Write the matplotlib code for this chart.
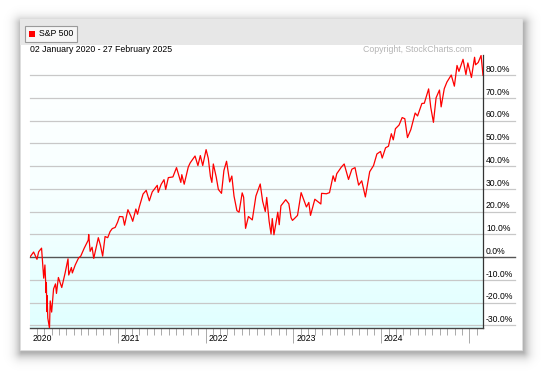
import matplotlib
matplotlib.use("Agg")
import matplotlib.pyplot as plt
import matplotlib.dates as mdates
import matplotlib.transforms as mtransforms
from matplotlib.patches import Rectangle
import numpy as np
import pandas as pd

plt.rcParams["font.family"] = ["Liberation Sans", "DejaVu Sans"]

# S&P 500, % change since 02 Jan 2020
dates = [
    "2020-01-02", "2020-01-17", "2020-01-31", "2020-02-07", "2020-02-19", "2020-02-28",
    "2020-03-04", "2020-03-09", "2020-03-10", "2020-03-12", "2020-03-13", "2020-03-16",
    "2020-03-23", "2020-03-26", "2020-04-01", "2020-04-09", "2020-04-17", "2020-04-21",
    "2020-04-29", "2020-05-13", "2020-05-27", "2020-06-08", "2020-06-11", "2020-06-22",
    "2020-06-26", "2020-07-08", "2020-07-22", "2020-07-31", "2020-08-14", "2020-08-31",
    "2020-09-02", "2020-09-08", "2020-09-16", "2020-09-23", "2020-10-12", "2020-10-21",
    "2020-10-30", "2020-11-09", "2020-11-20", "2020-11-30", "2020-12-09", "2020-12-21",
    "2020-12-31", "2021-01-08", "2021-01-22", "2021-01-29", "2021-02-12", "2021-02-25",
    "2021-03-04", "2021-03-17", "2021-03-24", "2021-03-31", "2021-04-16", "2021-04-29",
    "2021-05-12", "2021-05-24", "2021-06-14", "2021-06-18", "2021-06-30", "2021-07-12",
    "2021-07-19", "2021-07-30", "2021-08-18", "2021-08-31", "2021-09-02", "2021-09-20",
    "2021-09-24", "2021-10-04", "2021-10-21", "2021-10-29", "2021-11-18", "2021-11-30",
    "2021-12-10", "2021-12-20", "2022-01-03", "2022-01-12", "2022-01-21", "2022-01-27",
    "2022-02-02", "2022-02-14", "2022-02-23", "2022-03-08", "2022-03-18", "2022-03-29",
    "2022-04-11", "2022-04-20", "2022-04-29", "2022-05-11", "2022-05-20", "2022-06-02",
    "2022-06-08", "2022-06-16", "2022-06-28", "2022-07-14", "2022-07-29", "2022-08-16",
    "2022-08-26", "2022-09-06", "2022-09-12", "2022-09-22", "2022-09-30", "2022-10-05",
    "2022-10-12", "2022-10-28", "2022-11-03", "2022-11-10", "2022-11-30", "2022-12-13",
    "2022-12-22", "2022-12-28", "2023-01-05", "2023-01-18", "2023-02-02", "2023-02-24",
    "2023-03-06", "2023-03-13", "2023-03-31", "2023-04-25", "2023-04-28", "2023-05-18",
    "2023-05-31", "2023-06-15", "2023-06-23", "2023-06-30", "2023-07-19", "2023-07-31",
    "2023-08-18", "2023-09-01", "2023-09-14", "2023-09-29", "2023-10-12", "2023-10-27",
    "2023-11-14", "2023-11-30", "2023-12-14", "2023-12-29", "2024-01-05", "2024-01-19",
    "2024-01-31", "2024-02-12", "2024-02-20", "2024-02-29", "2024-03-15", "2024-03-28",
    "2024-04-08", "2024-04-19", "2024-05-03", "2024-05-21", "2024-05-31", "2024-06-18",
    "2024-06-28", "2024-07-16", "2024-07-25", "2024-08-05", "2024-08-16", "2024-08-30",
    "2024-09-06", "2024-09-19", "2024-09-30", "2024-10-18", "2024-10-31", "2024-11-11",
    "2024-11-19", "2024-12-06", "2024-12-18", "2024-12-26", "2025-01-10", "2025-01-23",
    "2025-01-27", "2025-02-07", "2025-02-19", "2025-02-27",
]
pct = [
    0.0, 2.2, -1.0, 2.3, 3.9, -9.3,
    -3.5, -15.7, -11.2, -24.0, -17.0, -26.8,
    -31.3, -19.3, -24.2, -14.0, -11.8, -16.0,
    -9.0, -13.4, -7.0, -0.8, -7.9, -4.6,
    -7.0, -3.5, -0.4, 0.4, 3.8, 7.4,
    9.9, 2.5, 4.3, -0.6, 8.5, 5.1,
    0.4, 9.0, 8.5, 11.2, 12.5, 13.0,
    15.3, 17.8, 17.7, 14.0, 20.8, 17.8,
    15.7, 21.1, 18.8, 21.9, 27.7, 29.3,
    24.7, 28.6, 31.5, 28.4, 31.9, 34.0,
    29.7, 34.9, 35.2, 38.8, 39.3, 32.8,
    36.2, 32.0, 39.6, 41.4, 44.4, 40.2,
    44.6, 40.2, 47.2, 43.4, 35.4, 32.8,
    40.9, 35.2, 29.7, 28.0, 38.0, 42.1,
    33.0, 35.6, 26.8, 20.4, 19.7, 28.2,
    26.3, 12.6, 17.8, 16.3, 26.8, 32.1,
    24.5, 20.0, 26.2, 15.7, 10.1, 16.9,
    9.8, 19.7, 14.2, 22.5, 25.2, 23.4,
    17.3, 16.1, 16.9, 18.3, 28.3, 22.0,
    24.0, 18.3, 25.4, 23.3, 28.0, 27.8,
    28.3, 35.7, 33.2, 36.6, 39.5, 40.9,
    34.1, 38.6, 39.3, 31.6, 33.5, 26.4,
    37.5, 40.2, 45.3, 46.4, 43.5, 48.0,
    48.7, 54.2, 51.5, 56.4, 58.0, 61.3,
    60.8, 52.5, 56.0, 63.3, 62.0, 67.5,
    67.6, 73.9, 65.7, 59.2, 70.0, 73.4,
    66.0, 74.0, 76.9, 80.0, 75.1, 84.2,
    81.6, 86.9, 80.2, 85.3, 78.9, 87.8,
    84.5, 85.5, 88.6, 79.9,
]
ytick_values = [80, 70, 60, 50, 40, 30, 20, 10, 0, -10, -20, -30]
year_labels = ["2020", "2021", "2022", "2023", "2024"]

W, H = 541, 371
fig = plt.figure(figsize=(W / 100, H / 100), dpi=100)
fig.patch.set_facecolor("white")


def box(x0, y0, x1, y1, **kw):
    # pixel coords (top-left origin) -> figure fraction rectangle
    r = Rectangle((x0 / W, 1 - y1 / H), (x1 - x0) / W, (y1 - y0) / H,
                  transform=fig.transFigure, **kw)
    fig.patches.append(r)
    return r


# blurred drop shadow around the card (decorative raster)
yy, xx = np.mgrid[0:H, 0:W]
dx = np.maximum(np.maximum(21 - xx, xx - 523), 0)
dy = np.maximum(np.maximum(23 - yy, yy - 352), 0)
dist = np.hypot(dx, dy)
shadow = np.zeros((H, W, 4))
shadow[..., 3] = 0.3 * np.exp(-(dist / 6.0) ** 1.3)
fig.figimage(shadow, xo=0, yo=0, origin="upper", zorder=0)

box(20, 19, 522, 350, facecolor="white", edgecolor="#e0e0e0", linewidth=0.5)
box(20, 19, 522, 45, facecolor="#e7e7e7", edgecolor="none")

# legend button
box(25, 26, 77, 42, facecolor="#f6f6f6", edgecolor="#9a9a9a", linewidth=0.8)
box(29, 31, 35, 37, facecolor="#ff0000", edgecolor="none")
fig.text(39 / W, 1 - 34 / H, "S&P 500", fontsize=6.3, va="center", ha="left", color="black")

fig.text(30 / W, 1 - 50 / H, "02 January 2020 - 27 February 2025", fontsize=6.3,
         va="center", ha="left", color="black")
fig.text(472 / W, 1 - 50 / H, "Copyright, StockCharts.com", fontsize=6.3,
         va="center", ha="right", color="#b4b4b4")

# plot area
ax = fig.add_axes([30 / W, 1 - 328 / H, 453 / W, 273 / H])
ax.set_zorder(5)
ax.patch.set_visible(False)
x = pd.to_datetime(dates)
ax.set_xlim(pd.Timestamp("2020-01-02"), pd.Timestamp("2025-02-27"))
ax.set_ylim(-31.2, 88.8)

grad = np.linspace(0, 1, 256).reshape(-1, 1)
cmap = matplotlib.colors.LinearSegmentedColormap.from_list(
    "bg", [(1, 1, 1), (0.97, 1, 1), (0.88, 1, 1)])
ax.imshow(grad, cmap=cmap, aspect="auto", extent=[0, 1, 0, 1],
          transform=ax.transAxes, zorder=0)

ytr = ax.get_yaxis_transform()
label_tr = mtransforms.offset_copy(ytr, fig=fig, x=0, y=4, units="points")
for v in ytick_values:
    col = "#555555" if v == 0 else "#c8c8c8"
    lw = 1.0 if v == 0 else 0.9
    ax.plot([0, 485 / 453], [v, v], color=col, lw=lw, transform=ytr,
            clip_on=False, zorder=1)
    ax.text(456 / 453, v, "{:.1f}%".format(v), transform=label_tr,
            fontsize=6.2, ha="left", va="center", color="black")

ax.plot(x, pct, color="#ff0000", lw=0.9, zorder=3)

for s in ["top", "left"]:
    ax.spines[s].set_visible(False)
ax.spines["right"].set_color("#333333")
ax.spines["right"].set_linewidth(0.9)
ax.spines["bottom"].set_color("#444444")
ax.spines["bottom"].set_linewidth(1.0)

ax.set_yticks([])
ax.xaxis.set_major_locator(mdates.YearLocator())
ax.xaxis.set_minor_locator(mdates.MonthLocator())
ax.xaxis.set_major_formatter(matplotlib.ticker.NullFormatter())
ax.tick_params(axis="x", which="major", length=11, width=0.7, color="#aaaaaa")
ax.tick_params(axis="x", which="minor", length=5, width=0.7, color="#aaaaaa")

xtr = ax.get_xaxis_transform()
yl_tr = mtransforms.offset_copy(xtr, fig=fig, x=2, y=-7.5, units="points")
for lbl in year_labels:
    ax.text(pd.Timestamp(lbl + "-01-01"), 0, lbl, transform=yl_tr,
            fontsize=6.2, ha="left", va="center", color="black")

fig.savefig("out.png", dpi=100)
